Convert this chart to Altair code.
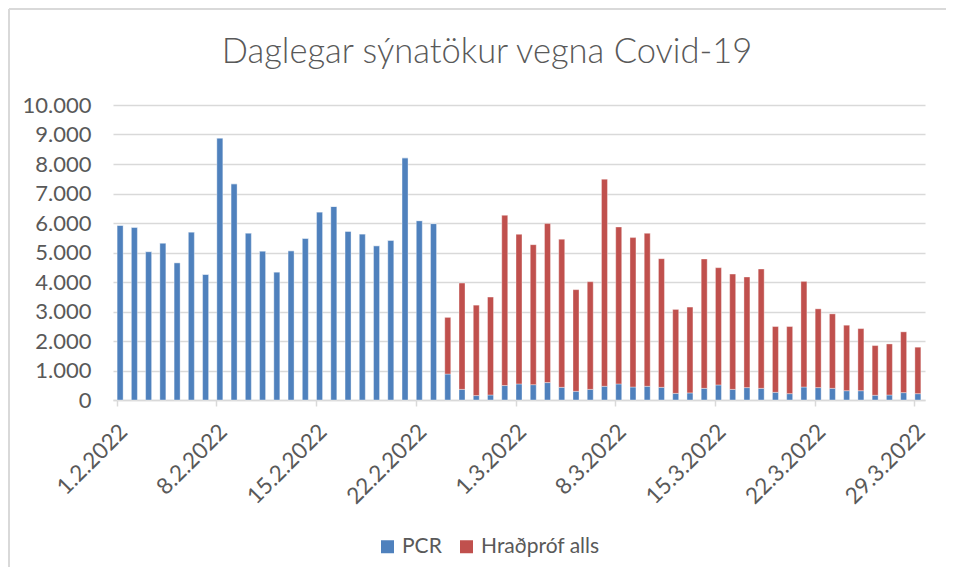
import altair as alt
import pandas as pd

# --- data ---
feb = [f"{d}.2.2022" for d in range(1, 29)]
mar = [f"{d}.3.2022" for d in range(1, 30)]
dates = feb + mar

totals = [5920, 5855, 5030, 5320, 4655, 5695, 4260, 8880, 7330, 5660,
          5050, 4340, 5060, 5480, 6375, 6560, 5720, 5630, 5230, 5415,
          8210, 6080, 5980, 2800, 3965, 3215, 3490, 6260,
          5615, 5265, 5980, 5450, 3740, 4010, 7485, 5865, 5505, 5650,
          4790, 3070, 3150, 4780, 4485, 4270, 4170, 4440, 2490, 2490,
          4020, 3090, 2920, 2535, 2420, 1845, 1900, 2310, 1790]
pcr = [5920, 5855, 5030, 5320, 4655, 5695, 4260, 8880, 7330, 5660,
       5050, 4340, 5060, 5480, 6375, 6560, 5720, 5630, 5230, 5415,
       8210, 6080, 5980, 880, 360, 150, 170, 490,
       545, 520, 590, 430, 295, 360, 465, 545, 440, 465,
       430, 225, 240, 395, 510, 360, 420, 395, 260, 215,
       440, 420, 395, 315, 315, 160, 170, 250, 215]
rapid = [t - p for t, p in zip(totals, pcr)]

series_names = ["PCR", "Hraðpróf alls"]
series_colors = ["#4F81BD", "#C0504D"]
label_dates = dates[::7]
y_ticks = list(range(0, 10001, 1000))
title_text = "Daglegar sýnatökur vegna Covid-19"

rows = []
for d, p, r in zip(dates, pcr, rapid):
    rows.append({"date": d, "series": series_names[0], "value": p, "ord": 0})
    rows.append({"date": d, "series": series_names[1], "value": r, "ord": 1})
df = pd.DataFrame(rows)

FONT = "Lato"
GREY = "#595959"
GRID = "#D9D9D9"

bars = alt.Chart(df).mark_bar(stroke="#ffffff", strokeWidth=0.6, strokeOpacity=0.6).encode(
    x=alt.X("date:N", sort=dates, title=None,
            scale=alt.Scale(paddingInner=0.58, paddingOuter=0.29),
            axis=alt.Axis(values=label_dates, labelAngle=-45, bandPosition=0,
                          labelOffset=-4, labelPadding=14, tickSize=6,
                          tickColor=GRID, tickWidth=1.5, domainColor=GRID,
                          domainWidth=1.5, labelFont=FONT, labelFontSize=22.5,
                          labelColor=GREY, grid=False)),
    y=alt.Y("value:Q", stack="zero", title=None,
            scale=alt.Scale(domain=[0, 10000], nice=False),
            axis=alt.Axis(values=y_ticks, domain=False, ticks=False,
                          gridColor=GRID, gridWidth=1.5, labelPadding=22,
                          labelFont=FONT, labelFontSize=22, labelColor=GREY,
                          labelExpr="replace(format(datum.value, ','), ',', '.')")),
    color=alt.Color("series:N",
                    scale=alt.Scale(domain=series_names, range=series_colors),
                    legend=alt.Legend(title=None, orient="none", legendX=264, legendY=431,
                                      direction="horizontal", symbolType="square",
                                      symbolSize=169, symbolStrokeWidth=0,
                                      labelFont=FONT, labelFontSize=21, labelColor=GREY,
                                      columnPadding=14, padding=0, labelOffset=4)),
    order=alt.Order("ord:Q"),
)

one = pd.DataFrame({"t": [title_text]})
left_border = alt.Chart(one).mark_rule(color=GRID, strokeWidth=2).encode(
    x=alt.value(-104), y=alt.value(-96), y2=alt.value(470))
top_border = alt.Chart(one).mark_rule(color=GRID, strokeWidth=2).encode(
    x=alt.value(-104), x2=alt.value(833), y=alt.value(-96))
title = alt.Chart(one).mark_text(font=FONT, fontSize=34.5, fontWeight=300, color=GREY,
                                 align="center", baseline="alphabetic").encode(
    text="t:N", x=alt.value(374), y=alt.value(-42))

chart = alt.layer(left_border, top_border, title, bars).properties(
    width=812, height=295,
    autosize=alt.AutoSizeParams(type="none"),
    padding={"left": 105, "top": 97, "right": 21, "bottom": 167},
).configure_view(stroke=None)

chart.save("out.html", embed_options={"renderer": "svg", "actions": False})
